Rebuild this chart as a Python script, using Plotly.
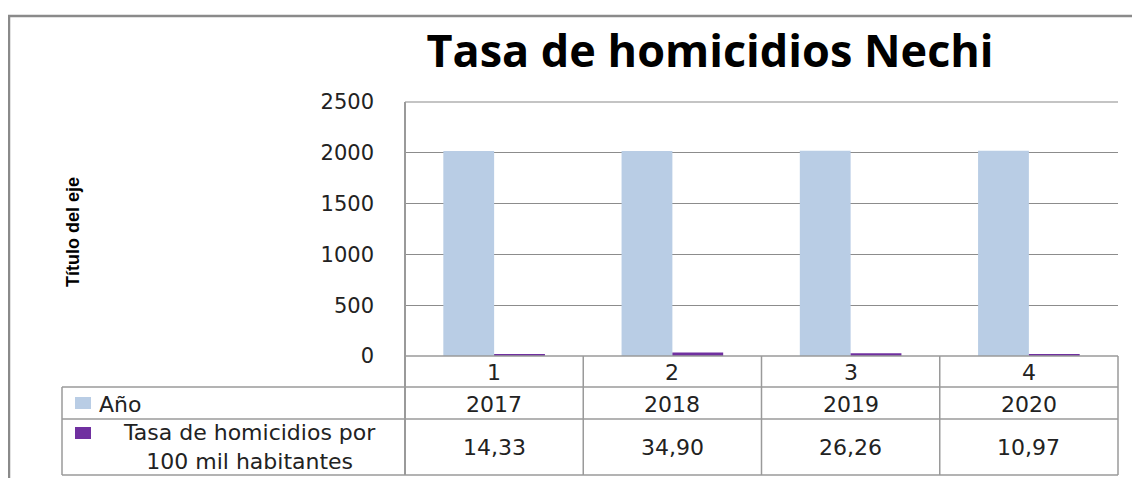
import plotly.graph_objects as go

categories = ["1", "2", "3", "4"]
anio = [2017, 2018, 2019, 2020]
tasa = [14.33, 34.90, 26.26, 10.97]
series_names = ["Año", "Tasa de homicidios por<br>100 mil habitantes"]
y_ticks = [0, 500, 1000, 1500, 2000, 2500]
title_text = "Tasa de homicidios Nechi"
y_title = "Título del eje"

# page offset (browser body margin)
OX, OY = 8, 8
W, H = 1140 - OX, 478 - OY
L, R, T, B = 405, 1118, 102, 356  # page pixel coords of plot area
C_ANIO = "#B9CDE5"
C_TASA = "#7030A0"
GRID = "#8c8c8c"
LINE = "#9a9a9a"
FONT = "DejaVu Sans"


def px(x):
    return (x - L) / (R - L)


def py(y):
    return (B - y) / (B - T)


xi = list(range(len(categories)))

fig = go.Figure()
fig.add_trace(go.Bar(x=xi, y=anio, name="Año", marker_color=C_ANIO,
                     marker_line_width=0))
fig.add_trace(go.Bar(x=xi, y=tasa, name="Tasa", marker_color=C_TASA,
                     marker_line_width=0))

shapes = []


def hline(y, x0, x1, color=LINE, w=1.5):
    shapes.append(dict(type="line", xref="paper", yref="paper", x0=px(x0), x1=px(x1),
                       y0=py(y), y1=py(y), line=dict(color=color, width=w)))


def vline(x, y0, y1, color=LINE, w=1.5):
    shapes.append(dict(type="line", xref="paper", yref="paper", x0=px(x), x1=px(x),
                       y0=py(y0), y1=py(y1), line=dict(color=color, width=w)))


# outer frame
hline(16, 8, 1140, color="#8a8a8a", w=2.5)
vline(9, 16, 478, color="#8a8a8a", w=2.5)

# top border of plot area
hline(T, L, R, color="#b0b0b0", w=1.5)

# data table
ROW0, ROW1, ROW2, ROW3 = 356, 387, 419, 475
TL = 62
hline(ROW0, L, R)
hline(ROW1, TL, R)
hline(ROW2, TL, R)
hline(ROW3, TL, R)
vline(TL, ROW1, ROW3)
vline(L, T, ROW3, color="#9a9a9a", w=2)
ncat = len(categories)
for i in range(1, ncat + 1):
    xb = L + (R - L) * i / ncat
    vline(xb, ROW0, ROW3)

# legend keys
shapes.append(dict(type="rect", xref="paper", yref="paper", x0=px(75), x1=px(91),
                   y0=py(397), y1=py(409), fillcolor=C_ANIO, line_width=0))
shapes.append(dict(type="rect", xref="paper", yref="paper", x0=px(75), x1=px(91),
                   y0=py(427), y1=py(439), fillcolor=C_TASA, line_width=0))

annotations = []
tf = dict(family=FONT, size=22, color="#222222")
for i, c in enumerate(categories):
    annotations.append(dict(x=i, xref="x", y=py((ROW0 + ROW1) / 2 + 1), yref="paper",
                            text=c, showarrow=False, font=tf, yanchor="middle"))
    annotations.append(dict(x=i, xref="x", y=py((ROW1 + ROW2) / 2 + 1), yref="paper",
                            text=str(anio[i]), showarrow=False, font=tf, yanchor="middle"))
    annotations.append(dict(x=i, xref="x", y=py((ROW2 + ROW3) / 2), yref="paper",
                            text=f"{tasa[i]:.2f}".replace(".", ","), showarrow=False,
                            font=tf, yanchor="middle"))

annotations.append(dict(x=px(97), xref="paper", y=py((ROW1 + ROW2) / 2 + 1), yref="paper",
                        text=series_names[0], showarrow=False, font=tf,
                        xanchor="left", yanchor="middle"))
annotations.append(dict(x=px(249), xref="paper", y=py((ROW2 + ROW3) / 2), yref="paper",
                        text=series_names[1], showarrow=False, font=tf,
                        xanchor="center", yanchor="middle", align="center"))

annotations.append(dict(x=px(73), xref="paper", y=py(232), yref="paper",
                        text=f"<b>{y_title}</b>", showarrow=False, textangle=-90,
                        font=dict(family="Liberation Sans Narrow, Liberation Sans, Arial", size=18,
                                  color="#000000"),
                        xanchor="center", yanchor="middle"))

fig.update_layout(
    width=W, height=H,
    margin=dict(l=L - OX, r=W - (R - OX), t=T - OY, b=H - (B - OY), pad=0),
    paper_bgcolor="white", plot_bgcolor="white",
    barmode="group", bargap=0.43, bargroupgap=0,
    showlegend=False,
    title=dict(text=f"<b>{title_text}</b>", x=px(710), xref="paper", xanchor="center",
               y=1 - (51 - OY) / H, yref="container", yanchor="middle",
               font=dict(family="Open Sans", size=45, color="#000000")),
    shapes=shapes, annotations=annotations,
    xaxis=dict(showticklabels=False, showgrid=False, zeroline=False, showline=False,
               ticks="", range=[-0.5, len(categories) - 0.5], fixedrange=True),
    yaxis=dict(range=[0, 2500], tickvals=y_ticks, showgrid=True, gridcolor=GRID,
               gridwidth=1, zeroline=False, showline=False, ticks="",
               ticklabelstandoff=30,
               tickfont=dict(family=FONT, size=21, color="#222222")),
)

fig.write_html("out.html")
